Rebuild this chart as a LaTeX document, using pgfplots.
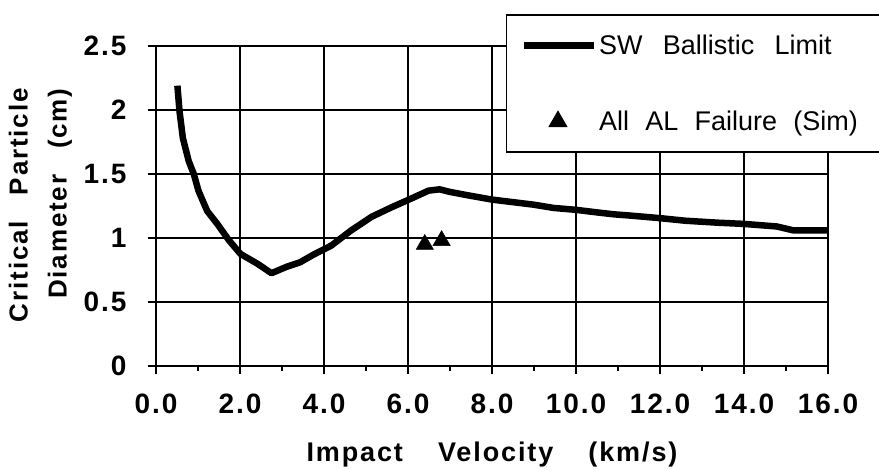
\documentclass[border=0pt]{standalone}
\usepackage{fontspec}
\setmainfont{Liberation Sans}
\newfontfamily\lbl[LetterSpace=7]{Liberation Sans}
\usepackage{pgfplots}
\usepackage{pgfplotstable}
\pgfplotsset{compat=1.18}

\newcommand\tickfont{\lbl\bfseries\fontsize{28}{32}\selectfont}
\newcommand\xlabfont{\lbl\bfseries\fontsize{27}{32}\selectfont}
\newcommand\ylabfont{\lbl\bfseries\fontsize{26}{39}\selectfont}
\newcommand\legfont{\fontsize{27}{32}\selectfont}
\newcommand\gap[1]{\hspace*{#1}}

\pgfplotsset{
  swimg/.style={legend image code/.code={\path (0pt,0pt) (70pt,0pt);
    \draw[##1] (0pt,0pt) -- (70pt,0pt);}},
  triimg/.style={legend image code/.code={\path (0pt,0pt) (70pt,0pt);
    \draw[##1] plot coordinates {(34pt,0pt)};}},
}

% SW ballistic limit curve
\pgfplotstableread{
v d
0.51 2.19
0.56 1.99
0.64 1.78
0.78 1.60
0.90 1.50
1.01 1.37
1.22 1.21
1.46 1.11
1.73 0.985
2.01 0.876
2.41 0.80
2.75 0.725
3.11 0.775
3.43 0.81
3.75 0.87
4.17 0.94
4.65 1.06
5.13 1.165
5.61 1.24
6.09 1.31
6.49 1.37
6.75 1.38
7.00 1.36
7.40 1.335
8.00 1.30
8.50 1.28
9.00 1.26
9.46 1.235
10.0 1.22
10.5 1.20
10.9 1.185
11.3 1.175
12.0 1.155
12.6 1.135
13.35 1.12
14.0 1.11
14.78 1.09
15.17 1.06
16.0 1.06
}\swlimit

\pgfplotstableread{
v d
6.4 0.95
6.8 0.98
}\alfail

\begin{document}
\begin{tikzpicture}
\begin{axis}[
  scale only axis,
  width=672pt, height=320pt,
  xmin=0, xmax=16, ymin=0, ymax=2.5,
  xtick={0,2,4,6,8,10,12,14,16},
  ytick={0,0.5,1,1.5,2,2.5},
  minor x tick num=1,
  xtick pos=bottom, ytick pos=left,
  tick align=outside,
  major tick length=8pt, minor tick length=5pt,
  every tick/.style={black, line width=1.2pt},
  grid=major,
  major grid style={black, line width=1.2pt},
  axis line style={line width=1.2pt},
  /pgf/number format/assume math mode=true,
  ticklabel style={font=\tickfont},
  xticklabel style={yshift=-16pt, /pgf/number format/.cd, fixed, fixed zerofill, precision=1},
  yticklabel style={xshift=-18pt},
  xlabel={Impact\gap{1.3em}Velocity\gap{1.3em}(km/s)},
  xlabel style={font=\xlabfont,
    at={(axis description cs:0.5,0)}, anchor=center, yshift=-89pt},
  ylabel={Critical\gap{1em}Particle\\Diameter\gap{1em}(cm)},
  ylabel style={font=\ylabfont,
    align=right, inner sep=0pt,
    at={(axis description cs:-0.172,0.868)}, anchor=east},
  legend cell align=left,
  legend style={at={(rel axis cs:0.521,1.099)}, anchor=north west,
    draw=black, line width=1.2pt, fill=white,
    inner xsep=14pt, inner ysep=18pt, row sep=51pt,
    font=\legfont},
]
\addplot[black, line width=6.5pt, line join=round, swimg]
  table[x=v, y=d] {\swlimit};
\addlegendentry{SW\gap{0.75em}Ballistic\gap{0.75em}Limit}
\addplot[only marks, black, mark=triangle*, mark size=10pt, triimg]
  table[x=v, y=d] {\alfail};
\addlegendentry{All\gap{0.6em}AL\gap{0.6em}Failure\gap{0.6em}(Sim)\rule[-22pt]{0pt}{22pt}\hspace*{60pt}}
\end{axis}
\pgfresetboundingbox
\useasboundingbox (-156pt,-104pt) rectangle (723pt,366pt);
\end{tikzpicture}
\end{document}
